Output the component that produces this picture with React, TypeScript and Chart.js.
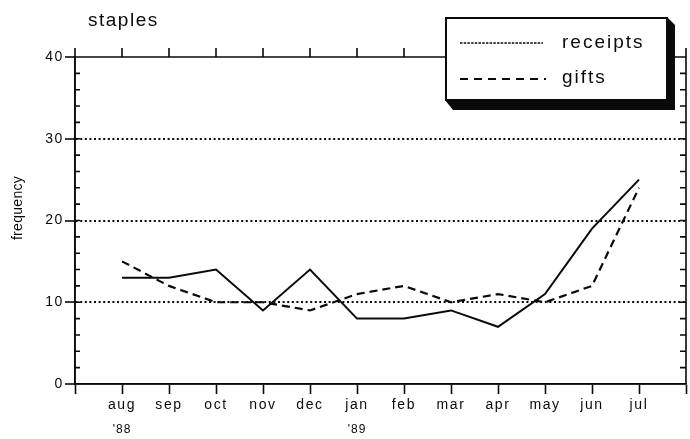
import React, { useEffect, useRef } from 'react';
import { Chart, registerables } from 'chart.js';

Chart.register(...registerables);

// ---- data ----
const months = ['aug', 'sep', 'oct', 'nov', 'dec', 'jan', 'feb', 'mar', 'apr', 'may', 'jun', 'jul'];
const yearLabels = ["'88", '', '', '', '', "'89", '', '', '', '', '', ''];
const receipts = [13, 13, 14, 9, 14, 8, 8, 9, 7, 11, 19, 25];
const gifts = [15, 12, 10, 10, 9, 11, 12, 10, 11, 10, 12, 24];
const yMajorTicks = [0, 10, 20, 30, 40];
const yGridValues = [10, 20, 30];
const chartTitle = 'staples';
const yAxisTitle = 'frequency';
const seriesNames = ['receipts', 'gifts'];

const INK = '#0a0a0a';
const CLEAR = 'rgba(0,0,0,0)';
const FONT = "'Liberation Sans', Arial, Helvetica, sans-serif";

const framePlugin = {
  id: 'frame',
  beforeDraw(chart: any) {
    chart.ctx.letterSpacing = '1.6px';
  },
  afterDraw(chart: any) {
    const { ctx, chartArea: a, scales } = chart;
    const xs = scales.x;
    const ys = scales.y;
    ctx.save();
    ctx.letterSpacing = '0px';
    ctx.strokeStyle = INK;
    ctx.fillStyle = INK;
    ctx.setLineDash([]);
    ctx.lineWidth = 1.6;

    // frame
    ctx.beginPath();
    ctx.moveTo(a.left, a.top);
    ctx.lineTo(a.right, a.top);
    ctx.moveTo(a.right, a.top);
    ctx.lineTo(a.right, a.bottom);
    ctx.moveTo(a.left, a.top);
    ctx.lineTo(a.left, a.bottom);
    ctx.moveTo(a.left, a.bottom);
    ctx.lineTo(a.right, a.bottom);
    // top outward ticks
    for (let i = xs.min; i <= xs.max; i++) {
      const px = xs.getPixelForValue(i);
      ctx.moveTo(px, a.top);
      ctx.lineTo(px, a.top - 9);
    }
    // inward y ticks, left and right
    for (let v = ys.min + 2; v < ys.max; v += 2) {
      const py = ys.getPixelForValue(v);
      ctx.moveTo(a.left, py);
      ctx.lineTo(a.left + 5, py);
      ctx.moveTo(a.right, py);
      ctx.lineTo(a.right - 6, py);
    }
    ctx.stroke();

    // year labels under the month labels
    ctx.font = `12px ${FONT}`;
    ctx.letterSpacing = '1px';
    ctx.textAlign = 'center';
    ctx.textBaseline = 'alphabetic';
    yearLabels.forEach((t, i) => {
      if (!t) return;
      ctx.fillText(t, xs.getPixelForValue(i), 433);
    });

    // title
    ctx.font = `19px ${FONT}`;
    ctx.letterSpacing = '1.5px';
    ctx.textAlign = 'left';
    ctx.fillText(chartTitle, 88, 26);

    // y axis title
    ctx.save();
    ctx.font = `14px ${FONT}`;
    ctx.letterSpacing = '0.3px';
    ctx.textAlign = 'center';
    ctx.translate(22, 208);
    ctx.rotate(-Math.PI / 2);
    ctx.fillText(yAxisTitle, 0, 0);
    ctx.restore();

    // legend box with shadow
    const bx = 445, by = 17, bw = 222, bh = 83;
    ctx.beginPath();
    ctx.moveTo(bx + bw, by);
    ctx.lineTo(bx + bw + 8, by + 8);
    ctx.lineTo(bx + bw + 8, by + bh + 10);
    ctx.lineTo(bx + 8, by + bh + 10);
    ctx.lineTo(bx, by + bh);
    ctx.lineTo(bx + bw, by + bh);
    ctx.closePath();
    ctx.fill();
    ctx.fillStyle = '#ffffff';
    ctx.fillRect(bx, by, bw, bh);
    ctx.fillStyle = INK;
    ctx.lineWidth = 2;
    ctx.strokeRect(bx + 1, by + 1, bw - 1, bh - 1);

    ctx.lineWidth = 1.6;
    ctx.setLineDash([2.5, 1.2]);
    ctx.beginPath();
    ctx.moveTo(460, 43);
    ctx.lineTo(543, 43);
    ctx.stroke();
    ctx.lineWidth = 2;
    ctx.setLineDash([8, 6]);
    ctx.beginPath();
    ctx.moveTo(460, 79);
    ctx.lineTo(546, 79);
    ctx.stroke();
    ctx.setLineDash([]);

    ctx.font = `19px ${FONT}`;
    ctx.letterSpacing = '2px';
    ctx.textAlign = 'left';
    ctx.fillText(seriesNames[0], 562, 48);
    ctx.fillText(seriesNames[1], 562, 83);

    ctx.restore();
  },
};

export default function App() {
  const ref = useRef<HTMLCanvasElement | null>(null);

  useEffect(() => {
    if (!ref.current) return;
    const chart = new Chart(ref.current, {
      type: 'line',
      data: {
        datasets: [
          {
            label: seriesNames[0],
            data: receipts.map((y, i) => ({ x: i, y })),
            borderColor: INK,
            borderWidth: 2,
            pointRadius: 0,
            tension: 0,
            fill: false,
          },
          {
            label: seriesNames[1],
            data: gifts.map((y, i) => ({ x: i, y })),
            borderColor: INK,
            borderWidth: 2.2,
            borderDash: [8, 5],
            pointRadius: 0,
            tension: 0,
            fill: false,
          },
        ],
      },
      options: {
        responsive: false,
        animation: false,
        events: [],
        layout: { padding: { top: 57, right: 4, left: 0, bottom: 0 } },
        plugins: {
          legend: { display: false },
          title: { display: false },
          tooltip: { enabled: false },
        },
        scales: {
          x: {
            type: 'linear',
            position: 'bottom',
            min: -1,
            max: months.length,
            ticks: {
              stepSize: 1,
              autoSkip: false,
              maxRotation: 0,
              padding: 3,
              color: INK,
              font: { family: FONT, size: 14 },
              callback: (v: any) => months[Number(v)] ?? '',
            },
            grid: {
              drawOnChartArea: false,
              drawTicks: true,
              tickLength: 10,
              tickColor: INK,
              tickWidth: 1.6,
            },
            border: { display: true, color: INK, width: 1.6 },
            afterFit: (s: any) => {
              s.height = 55;
            },
          },
          y: {
            type: 'linear',
            min: 0,
            max: 40,
            ticks: {
              stepSize: 2,
              autoSkip: false,
              padding: 1,
              color: INK,
              font: { family: FONT, size: 14 },
              callback: (v: any) => (yMajorTicks.includes(Number(v)) ? String(v) : ''),
            },
            grid: {
              drawOnChartArea: true,
              color: (c: any) => (c.tick && yGridValues.includes(c.tick.value) ? INK : CLEAR),
              lineWidth: 2,
              tickLength: 10,
              tickWidth: 1.6,
              tickColor: (c: any) => (c.tick && yMajorTicks.includes(c.tick.value) ? INK : CLEAR),
            },
            border: { display: true, color: INK, width: 1.6, dash: [2, 2.6] },
            afterFit: (s: any) => {
              s.width = 75;
            },
          },
        },
      },
      plugins: [framePlugin],
    } as any);
    return () => chart.destroy();
  }, []);

  return (
    <div style={{ position: 'absolute', left: 0, top: 0, width: 690, height: 439, background: '#fff' }}>
      <canvas ref={ref} width={690} height={439} style={{ display: 'block' }} />
    </div>
  );
}
